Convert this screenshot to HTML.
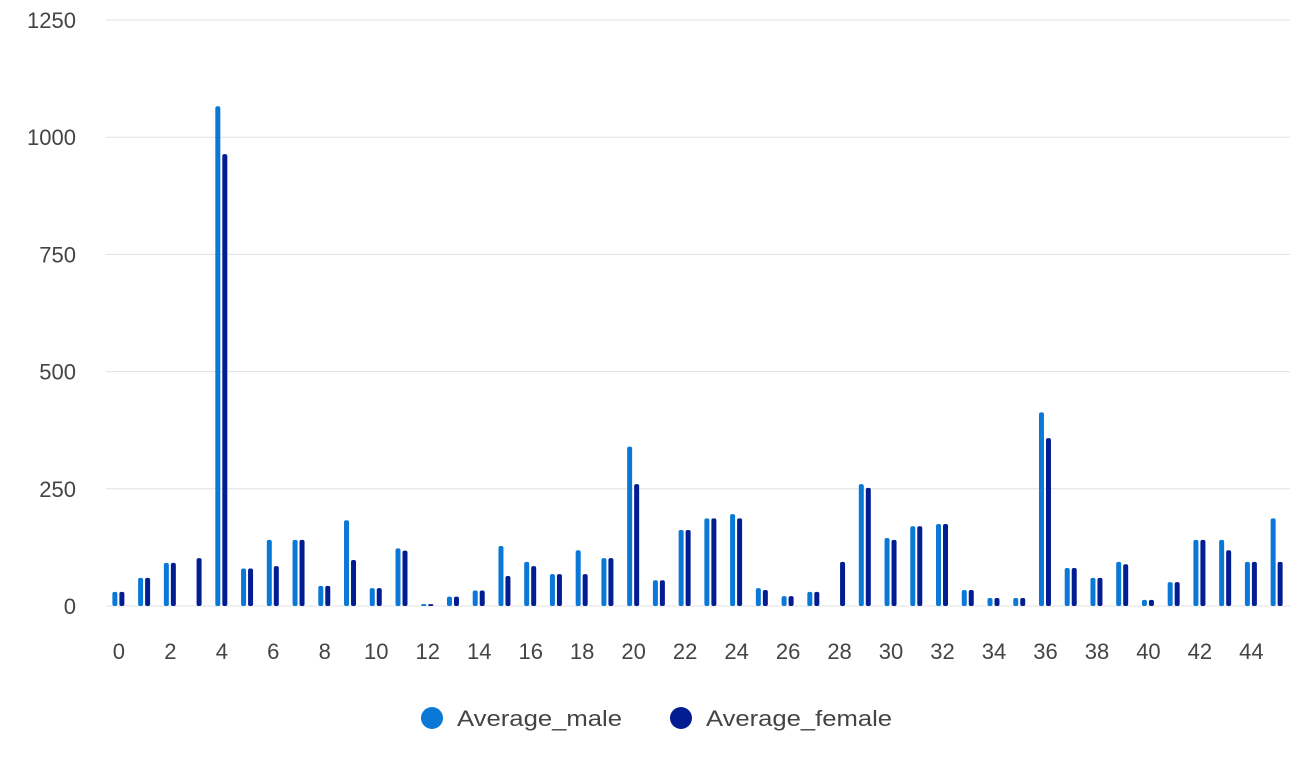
<!DOCTYPE html>
<html><head><meta charset="utf-8">
<style>
html,body{margin:0;padding:0;background:#fff;}
svg{display:block;font-family:"Liberation Sans",Arial,sans-serif;}
</style></head>
<body>
<svg id="chart" width="1310" height="778">
  <g id="grid"></g>
  <g id="yticks"></g>
  <g id="xticks"></g>
  <g id="bars"></g>
  <g>
    <g>
      <circle cx="432" cy="718" r="11" fill="#0a78d6"/>
      <text x="457" y="726" font-size="22" fill="#444" textLength="165" lengthAdjust="spacingAndGlyphs">Average_male</text>
    </g>
    <g>
      <circle cx="681" cy="718" r="11" fill="#021c92"/>
      <text x="706" y="726" font-size="22" fill="#444" textLength="186" lengthAdjust="spacingAndGlyphs">Average_female</text>
    </g>
  </g>
</svg>
<script>
const categories = Array.from({length:46},(_,i)=>String(i));
const maleValues = [30,60,92,0,1066,80,141,141,43,183,38,123,4,20,33,128,94,68,119,102,340,55,162,187,196,38,21,30,0,260,145,170,175,34,17,17,413,81,60,94,13,51,141,141,94,187];
const femaleValues = [30,60,92,102,964,80,85,141,43,98,38,118,4,20,33,64,85,68,68,102,260,55,162,187,187,34,21,30,94,252,141,170,175,34,17,17,358,81,60,89,13,51,141,119,94,94];
const yTicks = [0,250,500,750,1000,1250];

const NS="http://www.w3.org/2000/svg";
const plotL=106, plotR=1290, y0=606, yTop=20, yMax=1250;
const band=(plotR-plotL)/categories.length;
function yScale(v){return y0-(v/yMax)*(y0-yTop);}
function xCenter(i){return plotL+band*(i+0.5);}
function mk(tag,attrs,parent){const e=document.createElementNS(NS,tag);for(const k in attrs)e.setAttribute(k,attrs[k]);parent.appendChild(e);return e;}

const grid=document.getElementById('grid'), yt=document.getElementById('yticks'), xt=document.getElementById('xticks'), bars=document.getElementById('bars');
yTicks.forEach(t=>{
  const y=yScale(t);
  const l=mk('line',{x1:plotL,x2:plotR,y1:y,y2:y,stroke:'#e0e0e0','stroke-width':1},grid);
  
  
  const tx=mk('text',{x:76,y:y+8,'text-anchor':'end','font-size':22,fill:'#444'},yt);
  tx.textContent=t;
  
  
});
categories.forEach((c,i)=>{
  if(i%2===0){
    const tx=mk('text',{x:xCenter(i),y:659,'text-anchor':'middle','font-size':22,fill:'#444'},xt);
    tx.textContent=c;
    
    
  }
  const w=5;
  [[maleValues[i],-4,'#0a78d6','male'],[femaleValues[i],3,'#021c92','female']].forEach(([v,off,col,s])=>{
    if(!v) return;
    const y=yScale(v), h=y0-y;
    const r=mk('rect',{x:xCenter(i)+off-w/2,y:y,width:w,height:h,fill:col,rx:Math.min(2,h/2)},bars);
    
    
  });
});
</script>
</body></html>
